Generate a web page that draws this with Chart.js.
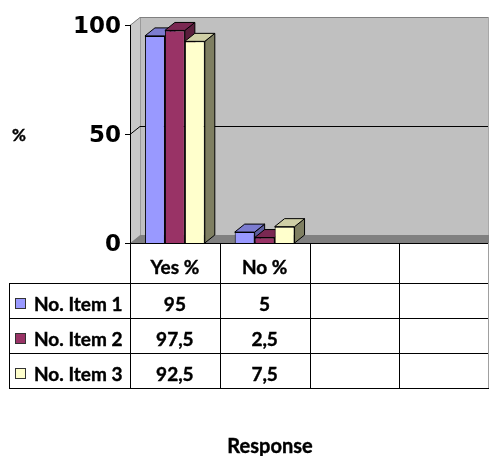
<!DOCTYPE html>
<html>
<head>
<meta charset="utf-8">
<script src="https://cdn.jsdelivr.net/npm/chart.js@4.4.1/dist/chart.umd.min.js"></script>
<style>
  html, body { margin: 0; padding: 0; background: #fff; }
  #wrap { width: 489px; height: 456px; }
</style>
</head>
<body>
<div id="wrap"><canvas id="chart" width="489" height="456"></canvas></div>
<script>
const categories = ['Yes %', 'No %', '', ''];
const seriesNames = ['No. Item 1', 'No. Item 2', 'No. Item 3'];
const item1 = [95, 5, null, null];
const item2 = [97.5, 2.5, null, null];
const item3 = [92.5, 7.5, null, null];
const yTicks = [0, 50, 100];
const yTitle = '%';
const xTitle = 'Response';

const fronts = ['#9999FF', '#993366', '#FFFFCC'];
const tops = ['#7c7cd0', '#7a2852', '#cfcfa6'];
const sides = ['#5f5fa0', '#5a1e3c', '#7f7f62'];

const DX = 10, DY = 8;           // depth of the 3d walls / bars
const HEADER_H = 40, ROW_H = 35; // data table rows
const TABLE_LEFT = 9;
const TEXT_FONT = 'bold 19px Lato';

function fmt(v) {
  return v == null ? '' : String(v).replace('.', ',');
}

function poly(ctx, pts, fill, stroke) {
  ctx.beginPath();
  ctx.moveTo(pts[0][0], pts[0][1]);
  for (let i = 1; i < pts.length; i++) ctx.lineTo(pts[i][0], pts[i][1]);
  ctx.closePath();
  if (fill) { ctx.fillStyle = fill; ctx.fill(); }
  if (stroke) { ctx.strokeStyle = stroke; ctx.lineWidth = 1; ctx.stroke(); }
}

// slightly heavier text, closer to the original bold face
function boldText(ctx, s, x, y) {
  ctx.fillText(s, x, y);
  ctx.lineWidth = 0.4;
  ctx.strokeStyle = ctx.fillStyle;
  ctx.strokeText(s, x, y);
}

// walls, floor, gridlines and the 3d faces of the bars
const walls3d = {
  id: 'walls3d',
  beforeDatasetsDraw(chart) {
    const ctx = chart.ctx;
    const { left, right, top, bottom } = chart.chartArea;
    const y = chart.scales.y;
    ctx.save();
    // back wall
    ctx.fillStyle = '#c0c0c0';
    ctx.fillRect(left + DX, top - DY, right - left - DX, bottom - top);
    // side wall
    poly(ctx, [[left, top], [left + DX, top - DY], [left + DX, bottom - DY], [left, bottom]], '#c9c9c9');
    ctx.strokeStyle = '#9a9a9a';
    ctx.beginPath();
    ctx.moveTo(left + DX + 0.5, top - DY);
    ctx.lineTo(left + DX + 0.5, bottom - DY);
    ctx.stroke();
    // gridlines
    yTicks.forEach((v) => {
      if (v === 0) return;
      const py = Math.round(y.getPixelForValue(v)) + 0.5;
      ctx.strokeStyle = v === 100 ? '#808080' : '#000';
      ctx.lineWidth = 1;
      ctx.beginPath();
      ctx.moveTo(left, py);
      ctx.lineTo(left + DX, py - DY);
      ctx.lineTo(right, py - DY);
      ctx.stroke();
    });
    ctx.strokeStyle = '#a8a8a8';
    ctx.beginPath();
    ctx.moveTo(right - 0.5, top - DY);
    ctx.lineTo(right - 0.5, bottom - DY);
    ctx.stroke();
    // floor
    poly(ctx, [[left, bottom], [left + DX, bottom - DY], [right, bottom - DY], [right, bottom]], '#808080');

    // bar tops and sides
    categories.forEach((c, j) => {
      chart.data.datasets.forEach((ds, i) => {
        const bar = chart.getDatasetMeta(i).data[j];
        if (!bar || ds.data[j] == null) return;
        const xl = bar.x - bar.width / 2, xr = bar.x + bar.width / 2;
        const ty = bar.y, by = bar.base;
        poly(ctx, [[xr, ty], [xr + DX, ty - DY], [xr + DX, by - DY], [xr, by]], sides[i], '#000');
        poly(ctx, [[xl, ty], [xl + DX, ty - DY], [xr + DX, ty - DY], [xr, ty]], tops[i], '#000');
      });
    });
    ctx.restore();
  },
  afterDraw(chart) {
    const ctx = chart.ctx;
    const { left, right, top, bottom } = chart.chartArea;
    const y = chart.scales.y;
    const x = chart.scales.x;
    ctx.save();

    // value axis
    ctx.strokeStyle = '#000';
    ctx.lineWidth = 1;
    ctx.beginPath();
    ctx.moveTo(left + 0.5, top);
    ctx.lineTo(left + 0.5, bottom);
    yTicks.forEach((v) => {
      const py = Math.round(y.getPixelForValue(v)) + 0.5;
      ctx.moveTo(left - 5, py);
      ctx.lineTo(left, py);
    });
    ctx.stroke();

    ctx.fillStyle = '#000';
    ctx.font = 'bold 23px "DejaVu Sans"';
    ctx.textAlign = 'right';
    ctx.textBaseline = 'middle';
    yTicks.forEach((v) => {
      ctx.fillText(String(v), left - 9, y.getPixelForValue(v) + 2);
    });

    ctx.font = 'bold 17px Lato';
    ctx.textAlign = 'center';
    boldText(ctx, yTitle, 19, y.getPixelForValue(50) + 2);

    // data table
    const colW = (right - left) / categories.length;
    const rowsTop = bottom + HEADER_H;
    const tableBottom = rowsTop + ROW_H * seriesNames.length;
    ctx.strokeStyle = '#000';
    ctx.lineWidth = 1;
    ctx.beginPath();
    categories.forEach((c, j) => {
      const cx = Math.round(left + j * colW) + 0.5;
      ctx.moveTo(cx, bottom);
      ctx.lineTo(cx, tableBottom);
    });
    ctx.moveTo(TABLE_LEFT + 0.5, rowsTop);
    ctx.lineTo(TABLE_LEFT + 0.5, tableBottom);
    ctx.moveTo(left, bottom + 0.5);
    ctx.lineTo(right, bottom + 0.5);
    for (let r = 0; r <= seriesNames.length; r++) {
      const ry = rowsTop + r * ROW_H + 0.5;
      ctx.moveTo(TABLE_LEFT, ry);
      ctx.lineTo(right, ry);
    }
    ctx.stroke();
    ctx.strokeStyle = '#a0a0a0';
    ctx.beginPath();
    ctx.moveTo(right - 0.5, bottom);
    ctx.lineTo(right - 0.5, tableBottom);
    ctx.stroke();

    ctx.font = TEXT_FONT;
    ctx.textAlign = 'center';
    ctx.textBaseline = 'alphabetic';
    ctx.fillStyle = '#000';
    categories.forEach((c, j) => {
      boldText(ctx, c, x.getPixelForValue(j), bottom + 31);
    });

    chart.data.datasets.forEach((ds, i) => {
      const rt = rowsTop + i * ROW_H;
      ctx.fillStyle = fronts[i];
      ctx.fillRect(15.5, rt + 15.5, 10, 10);
      ctx.strokeStyle = '#333';
      ctx.lineWidth = 1;
      ctx.strokeRect(15.5, rt + 15.5, 10, 10);
      ctx.fillStyle = '#000';
      ctx.textAlign = 'left';
      boldText(ctx, ds.label, 34, rt + 28);
      ctx.textAlign = 'center';
      ds.data.forEach((v, j) => {
        boldText(ctx, fmt(v), x.getPixelForValue(j), rt + 28);
      });
    });

    ctx.font = 'bold 20px Lato';
    boldText(ctx, xTitle, 270, 453);
    ctx.restore();
  }
};

new Chart(document.getElementById('chart'), {
  type: 'bar',
  data: {
    labels: categories,
    datasets: [item1, item2, item3].map((d, i) => ({
      label: seriesNames[i],
      data: d,
      backgroundColor: fronts[i],
      borderColor: '#000',
      borderWidth: 1,
      categoryPercentage: 0.667,
      barPercentage: 1
    }))
  },
  options: {
    responsive: false,
    animation: false,
    layout: { padding: { left: 130, right: 0, top: 25, bottom: 213 } },
    scales: {
      x: { display: false },
      y: { display: false, min: 0, max: 100 }
    },
    plugins: {
      legend: { display: false },
      tooltip: { enabled: false }
    }
  },
  plugins: [walls3d]
});
</script>
</body>
</html>
